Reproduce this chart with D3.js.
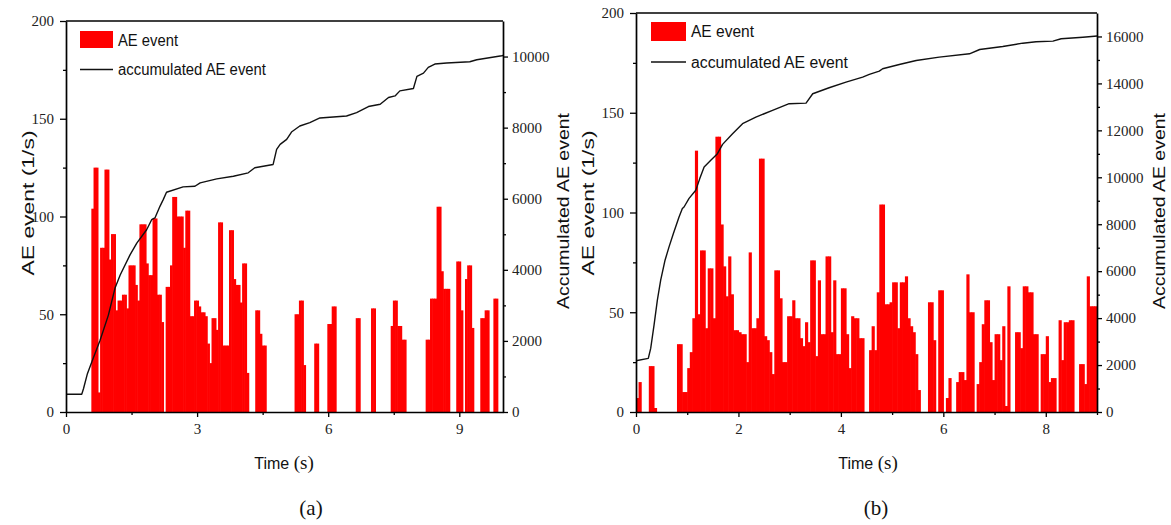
<!DOCTYPE html>
<html><head><meta charset="utf-8">
<script src="https://cdn.jsdelivr.net/npm/d3@7"></script>
<style>
html,body{margin:0;padding:0;background:#fff;}
svg{display:block;}
.tick text{font-family:'Liberation Serif','Times New Roman',serif !important;}
</style></head><body>
<svg id="chart" width="1171" height="525"></svg>
<script>
// ---------------- DATA ----------------
// Panel (a): AE event rate per 0.05 s bin, starting at 0.58 s
const aBinStart = 0.58;
const aBinWidth = 0.05;
const aRates = [
  104,125,125,10,84,84,124,124,78,91,
  91,52,57,57,60,60,53,75,75,75,
  65,57,96,96,96,76,70,70,99,99,
  60,60,46,0,64,64,75,110,110,100,
  100,100,84,103,103,49,49,57,57,54,
  51,51,49,35,25,48,48,42,97,97,
  34,34,34,93,93,68,65,65,56,76,
  76,20,0,0,0,52,52,40,34,34,
  0,0,0,0,0,0,0,0,0,0,0,0,0,
  50,50,57,57,24,0,0,0,0,35,35,0,0,0,0,45,45,54,54,
  0,0,0,0,0,0,0,0,0,48,48,0,0,0,0,0,53,53,
  0,0,0,0,0,0,0,44,57,57,44,44,37,37,
  0,0,0,0,0,0,0,0,0,37,37,58,58,58,105,105,72,63,63,63,
  0,0,0,77,77,52,0,68,75,75,43,0,0,0,48,48,52,52,0,0,58,58
];
const aAccTime  = [0,0.36,0.40,0.49,0.59,0.78,0.97,1.12,1.24,1.465,1.62,1.845,1.96,2.035,2.15,2.225,2.30,2.68,2.95,3.07,3.45,3.83,4.17,4.32,4.74,4.82,4.90,5.05,5.16,5.35,5.58,5.81,6.42,6.65,6.92,7.19,7.38,7.53,7.64,7.95,8.03,8.18,8.29,8.44,8.71,9.24,9.40,9.97,10.0];
const aAccValue = [500,500,655,1079,1407,2020,2726,3480,3856,4421,4751,5127,5410,5460,5786,5975,6182,6333,6351,6446,6559,6633,6729,6870,6964,7387,7529,7670,7876,8045,8141,8272,8328,8424,8594,8659,8848,8893,9034,9102,9441,9534,9695,9789,9817,9854,9910,10023,10030];

// Panel (b): AE event rate per 0.05 s bin, starting at 0 s
const bBinStart = 0;
const bBinWidth = 0.05;
const bRates = [
  7,15,0,0,0,23,23,2,0,0,
  0,0,0,0,0,0,34,34,10,10,
  22,30,47,131,49,81,81,42,72,72,
  47,138,138,94,73,58,78,59,41,41,
  40,39,39,25,80,42,42,47,127,127,
  38,36,30,19,71,71,57,25,25,48,
  48,56,47,47,37,33,45,35,76,76,
  28,66,39,39,78,78,40,66,29,29,
  62,62,39,22,48,47,47,37,37,0,
  0,31,43,31,60,104,104,54,54,55,
  65,65,42,65,65,68,47,43,40,29,
  11,0,0,0,55,55,36,0,61,61,
  0,7,17,0,0,15,20,20,16,69,
  50,50,0,14,25,44,56,56,35,16,
  39,39,26,43,3,63,0,0,40,40,
  32,63,63,60,60,39,39,0,29,29,
  38,15,17,17,0,46,26,45,45,46,
  46,0,0,24,24,14,68,53,53,53
];
const bAccTime  = [0,0.24,0.287,0.352,0.417,0.482,0.567,0.645,0.73,0.84,0.905,0.938,1.036,1.167,1.245,1.33,1.46,1.59,1.69,1.885,2.08,2.34,2.665,2.99,3.32,3.45,3.77,4.10,4.425,4.555,4.75,4.815,5.14,5.47,5.92,6.51,6.71,7.16,7.55,7.81,8.14,8.30,8.725,8.95,9.0];
const bAccValue = [2183,2285,2710,3702,4766,5617,6468,7034,7604,8310,8667,8735,9100,9446,9944,10438,10723,11008,11403,11858,12284,12565,12850,13135,13161,13560,13816,14054,14267,14382,14522,14624,14807,14978,15120,15262,15445,15573,15714,15774,15800,15901,15969,16012,16020];

// Tick values
const leftTicks  = [0,50,100,150,200];
const leftMinor  = [25,75,125,175];
const aXTicks = [0,3,6,9];
const aXMinor = [1.5,4.5,7.5];
const bXTicks = [0,2,4,6,8];
const bXMinor = [1,3,5,7,9];
const aRightTicks = [0,2000,4000,6000,8000,10000];
const aRightMinor = [1000,3000,5000,7000,9000];
const bRightTicks = [0,2000,4000,6000,8000,10000,12000,14000,16000];
const bRightMinor = [1000,3000,5000,7000,9000,11000,13000,15000];

// Texts
const legendBar  = "AE event";
const legendLine = "accumulated AE event";
const yLeftTitle  = "AE event (1/s)";
const yRightTitle = "Accumulated AE event";
const xTitleMain = "Time";
const xTitleUnit = "(s)";
const panelLabels = ["(a)", "(b)"];

// ---------------- LAYOUT ----------------
const SANS = "'Liberation Sans', Arial, sans-serif";
const SERIF = "'Liberation Serif', 'Times New Roman', serif";
const RED = "#ff0000";

const panels = [
  { rates:aRates, binStart:aBinStart, binWidth:aBinWidth, accT:aAccTime, accV:aAccValue,
    xDomain:[0,10], xTicks:aXTicks, xMinor:aXMinor, rMax:11000, rTicks:aRightTicks, rMinor:aRightMinor,
    left:66, right:503, top:21, bottom:412,
    yLTitleX:28, yRTitleX:563, yLTitleLen:145, yRTitleLen:196,
    xTitleX:284, labelX:311,
    leg:{x0:80, x1:113, rectY:31, rectH:17, lineY:69.5, tx:118, t1y:45.7, t2y:75, t1len:60, t2len:148},
    label:panelLabels[0] },
  { rates:bRates, binStart:bBinStart, binWidth:bBinWidth, accT:bAccTime, accV:bAccValue,
    xDomain:[0,9], xTicks:bXTicks, xMinor:bXMinor, rMax:17000, rTicks:bRightTicks, rMinor:bRightMinor,
    left:636, right:1097, top:13, bottom:412,
    yLTitleX:588, yRTitleX:1159, yLTitleLen:145, yRTitleLen:196,
    xTitleX:868, labelX:876,
    leg:{x0:651, x1:686, rectY:22, rectH:19, lineY:62, tx:691, t1y:36.7, t2y:67.5, t1len:63, t2len:157},
    label:panelLabels[1] }
];

const svg = d3.select("#chart");

function styleAxis(g, fontSize) {
  g.attr("font-family", SERIF).attr("font-size", fontSize);
  g.select(".domain").attr("stroke","#000").attr("stroke-width",1.7);
  g.selectAll(".tick line").attr("stroke","#000").attr("stroke-width",1.3);
  g.selectAll(".tick text").attr("fill","#222").attr("font-family",SERIF).attr("font-size",fontSize);
}

panels.forEach(p => {
  const g = svg.append("g");
  const x = d3.scaleLinear().domain(p.xDomain).range([p.left, p.right]);
  const yL = d3.scaleLinear().domain([0,200]).range([p.bottom, p.top]);
  const yR = d3.scaleLinear().domain([0,p.rMax]).range([p.bottom, p.top]);

  // bars (one per bin, zero bins skipped)
  const bins = p.rates.map((v,i) => ({t0: p.binStart + i*p.binWidth, t1: p.binStart + (i+1)*p.binWidth, v}))
                      .filter(d => d.v > 0);
  g.append("g").selectAll("rect").data(bins).join("rect")
    .attr("x", d => x(d.t0))
    .attr("width", d => x(d.t1) - x(d.t0) + 0.6)
    .attr("y", d => yL(d.v))
    .attr("height", d => yL(0) - yL(d.v))
    .attr("fill", RED);

  // accumulated line
  const pts = p.accT.map((t,i) => [t, p.accV[i]]);
  g.append("path").datum(pts)
    .attr("fill","none").attr("stroke","#111").attr("stroke-width",1.4)
    .attr("stroke-linejoin","round")
    .attr("d", d3.line().x(d => x(d[0])).y(d => yR(d[1])));

  // top frame line
  g.append("line").attr("x1",p.left).attr("x2",p.right).attr("y1",p.top).attr("y2",p.top)
    .attr("stroke","#000").attr("stroke-width",1.7);

  // left axis
  const gl = g.append("g").attr("transform",`translate(${p.left},0)`)
    .call(d3.axisLeft(yL).tickValues(leftTicks).tickSize(6).tickSizeOuter(0).tickPadding(6).tickFormat(d3.format("d")));
  styleAxis(gl, 15);
  const glm = g.append("g").attr("transform",`translate(${p.left},0)`)
    .call(d3.axisLeft(yL).tickValues(leftMinor).tickSize(3).tickSizeOuter(0).tickFormat(() => ""));
  glm.select(".domain").remove();
  glm.selectAll(".tick line").attr("stroke","#000").attr("stroke-width",1.3);

  // right axis
  const gr = g.append("g").attr("transform",`translate(${p.right},0)`)
    .call(d3.axisRight(yR).tickValues(p.rTicks).tickSize(5).tickSizeOuter(0).tickPadding(4).tickFormat(d3.format("d")));
  styleAxis(gr, 15);
  const grm = g.append("g").attr("transform",`translate(${p.right},0)`)
    .call(d3.axisRight(yR).tickValues(p.rMinor).tickSize(3).tickSizeOuter(0).tickFormat(() => ""));
  grm.select(".domain").remove();
  grm.selectAll(".tick line").attr("stroke","#000").attr("stroke-width",1.3);

  // bottom axis
  const gb = g.append("g").attr("transform",`translate(0,${p.bottom})`)
    .call(d3.axisBottom(x).tickValues(p.xTicks).tickSize(5).tickSizeOuter(0).tickPadding(6).tickFormat(d3.format("d")));
  styleAxis(gb, 15);
  const gbm = g.append("g").attr("transform",`translate(0,${p.bottom})`)
    .call(d3.axisBottom(x).tickValues(p.xMinor).tickSize(3).tickSizeOuter(0).tickFormat(() => ""));
  gbm.select(".domain").remove();
  gbm.selectAll(".tick line").attr("stroke","#000").attr("stroke-width",1.3);

  // axis titles
  g.append("text")
    .attr("transform",`translate(${p.yLTitleX},${203}) rotate(-90)`)
    .attr("text-anchor","middle").attr("dy","0.36em")
    .attr("textLength", p.yLTitleLen).attr("lengthAdjust","spacingAndGlyphs")
    .style("font-family",SANS).style("font-size","16px").attr("fill","#111")
    .text(yLeftTitle);
  g.append("text")
    .attr("transform",`translate(${p.yRTitleX},${211}) rotate(-90)`)
    .attr("text-anchor","middle").attr("dy","0.36em")
    .attr("textLength", p.yRTitleLen).attr("lengthAdjust","spacingAndGlyphs")
    .style("font-family",SANS).style("font-size","16px").attr("fill","#111")
    .text(yRightTitle);

  const xt = g.append("text").attr("x",p.xTitleX).attr("y",469).attr("text-anchor","middle").attr("fill","#111");
  xt.append("tspan").style("font-family",SANS).style("font-size","16px").text(xTitleMain + " ");
  xt.append("tspan").style("font-family",SERIF).style("font-size","19px").text(xTitleUnit);

  g.append("text").attr("x",p.labelX).attr("y",515).attr("text-anchor","middle")
    .style("font-family",SERIF).style("font-size","21px").attr("fill","#111").text(p.label);

  // legend
  const L = p.leg;
  g.append("rect").attr("x",L.x0).attr("y",L.rectY).attr("width",L.x1-L.x0).attr("height",L.rectH).attr("fill",RED);
  g.append("line").attr("x1",L.x0).attr("x2",L.x1).attr("y1",L.lineY).attr("y2",L.lineY)
    .attr("stroke","#111").attr("stroke-width",1.5);
  g.append("text").attr("x",L.tx).attr("y",L.t1y)
    .attr("textLength",L.t1len).attr("lengthAdjust","spacingAndGlyphs")
    .style("font-family",SANS).style("font-size","16px").attr("fill","#111").text(legendBar);
  g.append("text").attr("x",L.tx).attr("y",L.t2y)
    .attr("textLength",L.t2len).attr("lengthAdjust","spacingAndGlyphs")
    .style("font-family",SANS).style("font-size","16px").attr("fill","#111").text(legendLine);
});
</script>
</body></html>
